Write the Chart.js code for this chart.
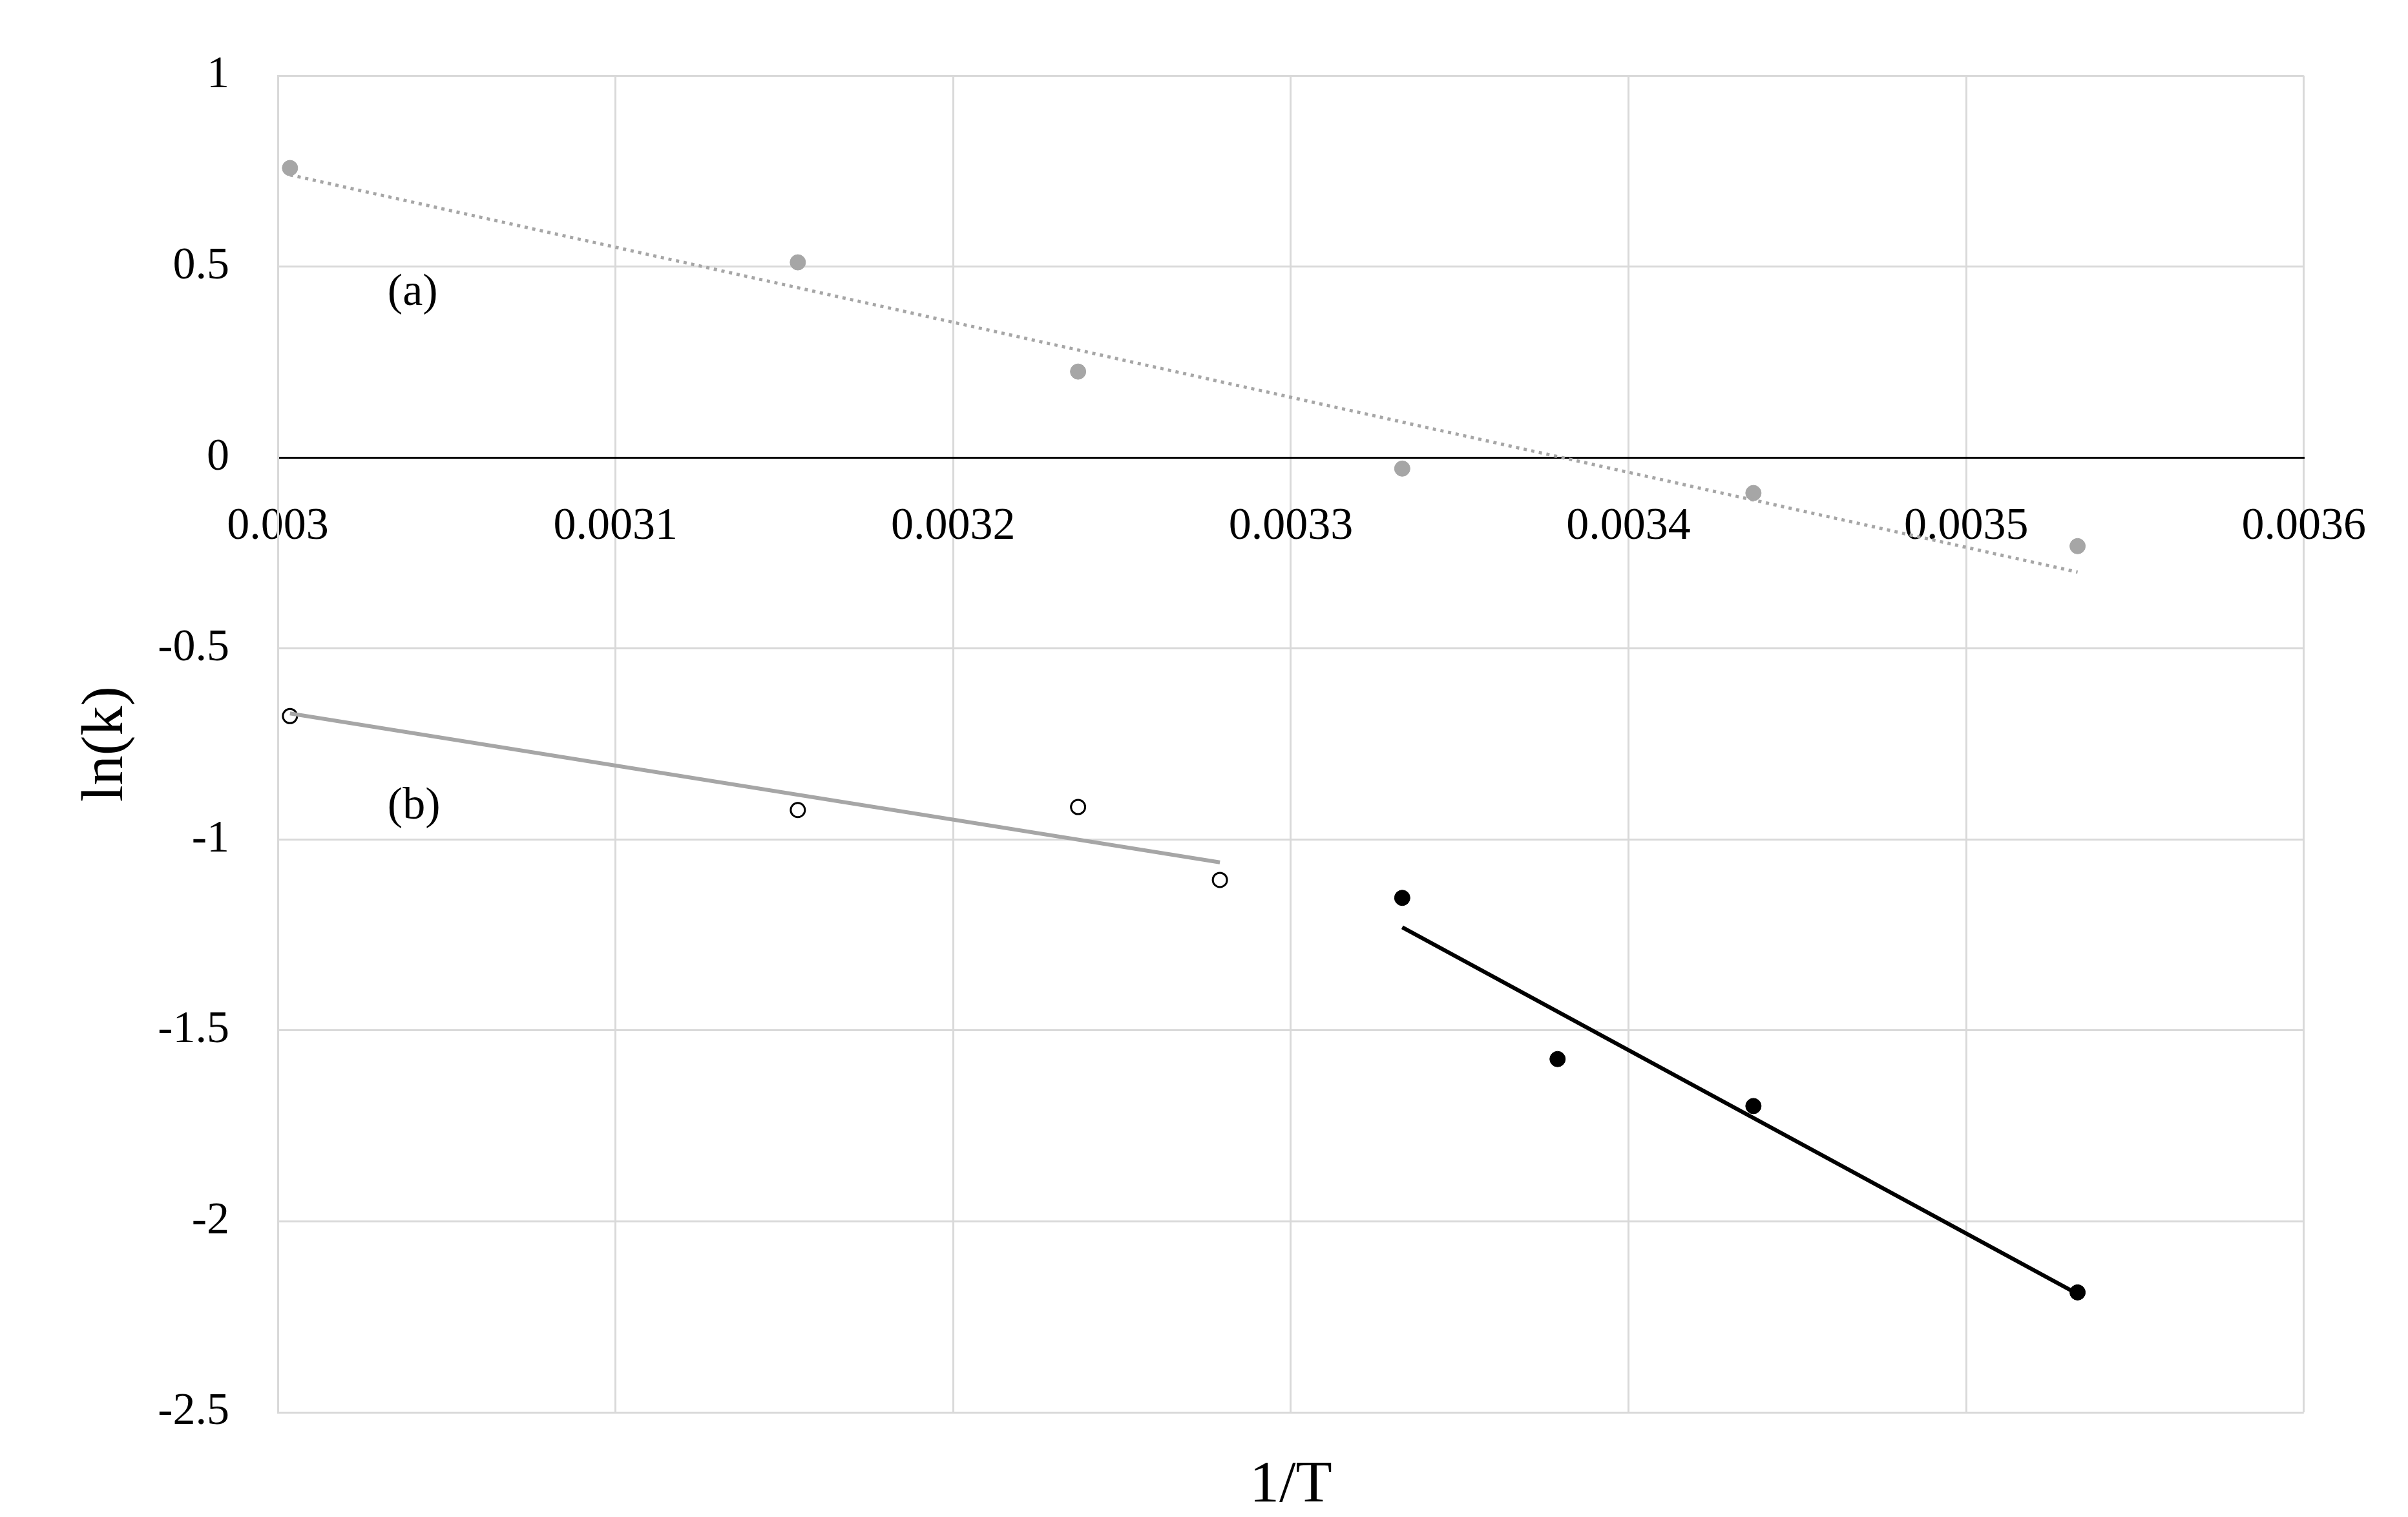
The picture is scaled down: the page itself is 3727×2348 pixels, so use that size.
<!DOCTYPE html>
<html><head><meta charset="utf-8">
<script src="https://cdn.jsdelivr.net/npm/chart.js@4/dist/chart.umd.min.js"></script>
<style>html,body{margin:0;padding:0;background:#fff}#c{display:block}</style>
</head><body>
<canvas id="c" width="3727" height="2348"></canvas>
<script>
const xTicks=[0.003,0.0031,0.0032,0.0033,0.0034,0.0035,0.0036];
const yTicks=[1,0.5,0,-0.5,-1,-1.5,-2,-2.5];
const aX=[0.0030036,0.003154,0.003237,0.003333,0.003437,0.003533];
const aY=[0.758,0.511,0.225,-0.029,-0.093,-0.232];
const aTrendX=[0.0030036,0.003533];
const aTrendY=[0.74,-0.30];
const bX=[0.0030036,0.003154,0.003237,0.003279];
const bY=[-0.677,-0.923,-0.915,-1.106];
const bTrendX=[0.0030036,0.003279];
const bTrendY=[-0.67,-1.06];
const cX=[0.003333,0.003379,0.003437,0.003533];
const cY=[-1.153,-1.575,-1.698,-2.186];
const cTrendX=[0.003333,0.003533];
const cTrendY=[-1.23,-2.19];
const pts=(xs,ys)=>xs.map((x,i)=>({x,y:ys[i]}));
const FONT='"Liberation Serif", serif';
const labels={id:'labels',afterDraw(ch){
  const c=ch.ctx,xs=ch.scales.x,ys=ch.scales.y;
  c.save();c.fillStyle='#000';c.textBaseline='middle';c.textAlign='left';
  c.font='70px '+FONT;
  c.fillText('(a)',xs.getPixelForValue(0.0030325),ys.getPixelForValue(0.43));
  c.fillText('(b)',xs.getPixelForValue(0.0030325),ys.getPixelForValue(-0.915));
  c.textAlign='center';c.font='92px '+FONT;
  c.fillText('1/T',(ch.chartArea.left+ch.chartArea.right)/2,2300);
  c.translate(165,(ch.chartArea.top+ch.chartArea.bottom)/2);c.rotate(-Math.PI/2);
  c.fillText('ln(k)',0,0);
  c.restore();
}};
new Chart(document.getElementById('c'),{
  type:'scatter',
  data:{datasets:[
    {data:pts(aTrendX,aTrendY),showLine:true,pointRadius:0,borderColor:'#a6a6a6',borderWidth:5,borderDash:[5,7]},
    {data:pts(aX,aY),pointRadius:12,backgroundColor:'#a6a6a6',borderColor:'#a6a6a6'},
    {data:pts(bTrendX,bTrendY),showLine:true,pointRadius:0,borderColor:'#a6a6a6',borderWidth:6},
    {data:pts(bX,bY),pointRadius:11,backgroundColor:'#fff',borderColor:'#000',borderWidth:3},
    {data:pts(cTrendX,cTrendY),showLine:true,pointRadius:0,borderColor:'#000',borderWidth:6},
    {data:pts(cX,cY),pointRadius:12,backgroundColor:'#000',borderColor:'#000'}
  ]},
  options:{responsive:false,animation:false,
    layout:{padding:{left:30,top:88,right:148,bottom:162}},
    plugins:{legend:{display:false},tooltip:{enabled:false}},
    scales:{
      x:{type:'linear',position:{y:0},min:0.003,max:0.0036,
        afterBuildTicks:s=>{s.ticks=xTicks.map(v=>({value:v}));},
        grid:{color:'#d9d9d9',lineWidth:3,drawTicks:false},
        border:{color:'#000',width:3},
        ticks:{font:{size:70,family:FONT},color:'#000',padding:65,maxRotation:0,autoSkip:false,callback:v=>String(+v.toFixed(4))}},
      y:{type:'linear',min:-2.5,max:1,
        afterBuildTicks:s=>{s.ticks=yTicks.map(v=>({value:v}));},
        afterFit:s=>{s.width=400;},
        grid:{color:c=>c.tick&&c.tick.value===0?'#000':'#d9d9d9',lineWidth:3,drawTicks:false},
        border:{color:'#d9d9d9',width:3},
        ticks:{font:{size:70,family:FONT},color:'#000',padding:75,callback:v=>String(v)}}
    }
  },
  plugins:[labels]
});
</script>
</body></html>
